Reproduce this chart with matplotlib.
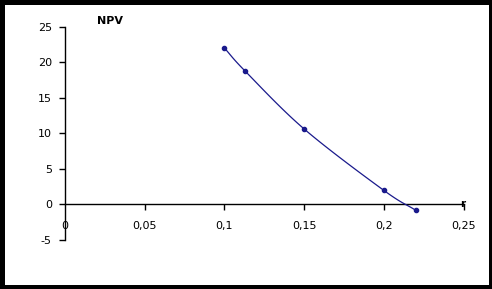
import matplotlib
matplotlib.use("Agg")
import matplotlib.pyplot as plt
from matplotlib.patches import Rectangle
import numpy as np

plt.rcParams['font.family'] = ['DejaVu Sans']
plt.rcParams['axes.unicode_minus'] = False

# data
rate = [0.1, 0.113, 0.15, 0.2, 0.22]
npv = [22.0, 18.75, 10.6, 1.95, -0.85]
xticks = [0, 0.05, 0.1, 0.15, 0.2, 0.25]
xlabels = ['0', '0,05', '0,1', '0,15', '0,2', '0,25']
yticks = [-5, 0, 5, 10, 15, 20, 25]

line_col = '#1a1a8c'


# smoothed line through the points (catmull-rom, like excel "smoothed line")
def smooth(xs, ys, n=20):
    p = np.column_stack([xs, ys])
    p = np.vstack([2 * p[0] - p[1], p, 2 * p[-1] - p[-2]])
    out = []
    for i in range(1, len(p) - 2):
        p0, p1, p2, p3 = p[i - 1], p[i], p[i + 1], p[i + 2]
        t = np.linspace(0, 1, n)[:, None]
        seg = 0.5 * ((2 * p1) + (-p0 + p2) * t + (2 * p0 - 5 * p1 + 4 * p2 - p3) * t ** 2
                     + (-p0 + 3 * p1 - 3 * p2 + p3) * t ** 3)
        out.append(seg)
    out = np.vstack(out)
    return out[:, 0], out[:, 1]


fig = plt.figure(figsize=(4.92, 2.89), dpi=100)
fig.patch.set_facecolor('black')
fig.patches.append(Rectangle((5 / 492, 4.5 / 289), 484 / 492, 280 / 289,
                             transform=fig.transFigure, facecolor='white',
                             edgecolor='none', zorder=-5))

ax = fig.add_axes([65 / 492, 49.3 / 289, 398.5 / 492, 213 / 289])
ax.set_zorder(1)
ax.set_facecolor('none')

sx, sy = smooth(rate, npv)
ax.plot(sx, sy, color=line_col, lw=0.9, zorder=3)
ax.plot(rate, npv, linestyle='none', marker='o', ms=3, color=line_col, zorder=4)

ax.set_xlim(0, 0.25)
ax.set_ylim(-5, 25)
ax.spines['top'].set_visible(False)
ax.spines['right'].set_visible(False)
ax.spines['bottom'].set_position(('data', 0))
ax.spines['left'].set_linewidth(1)
ax.spines['bottom'].set_linewidth(1)

ax.set_xticks(xticks)
ax.set_xticklabels(xlabels)
ax.set_yticks(yticks)
ax.tick_params(axis='x', direction='out', length=4, width=1, pad=8, labelsize=8)
ax.tick_params(axis='y', direction='out', length=4, width=1, pad=5.5, labelsize=8)
ax.get_xticklines()[0].set_visible(False)

ax.text(110 / 492, (289 - 21.5) / 289, 'NPV', fontsize=8, fontweight='bold', ha='center',
        va='center', transform=fig.transFigure)
ax.text(0.2495, 0, 'r', fontsize=7.5, fontweight='bold', ha='center', va='center',
        clip_on=False)

fig.savefig('out.png', dpi=100, facecolor=fig.get_facecolor())
